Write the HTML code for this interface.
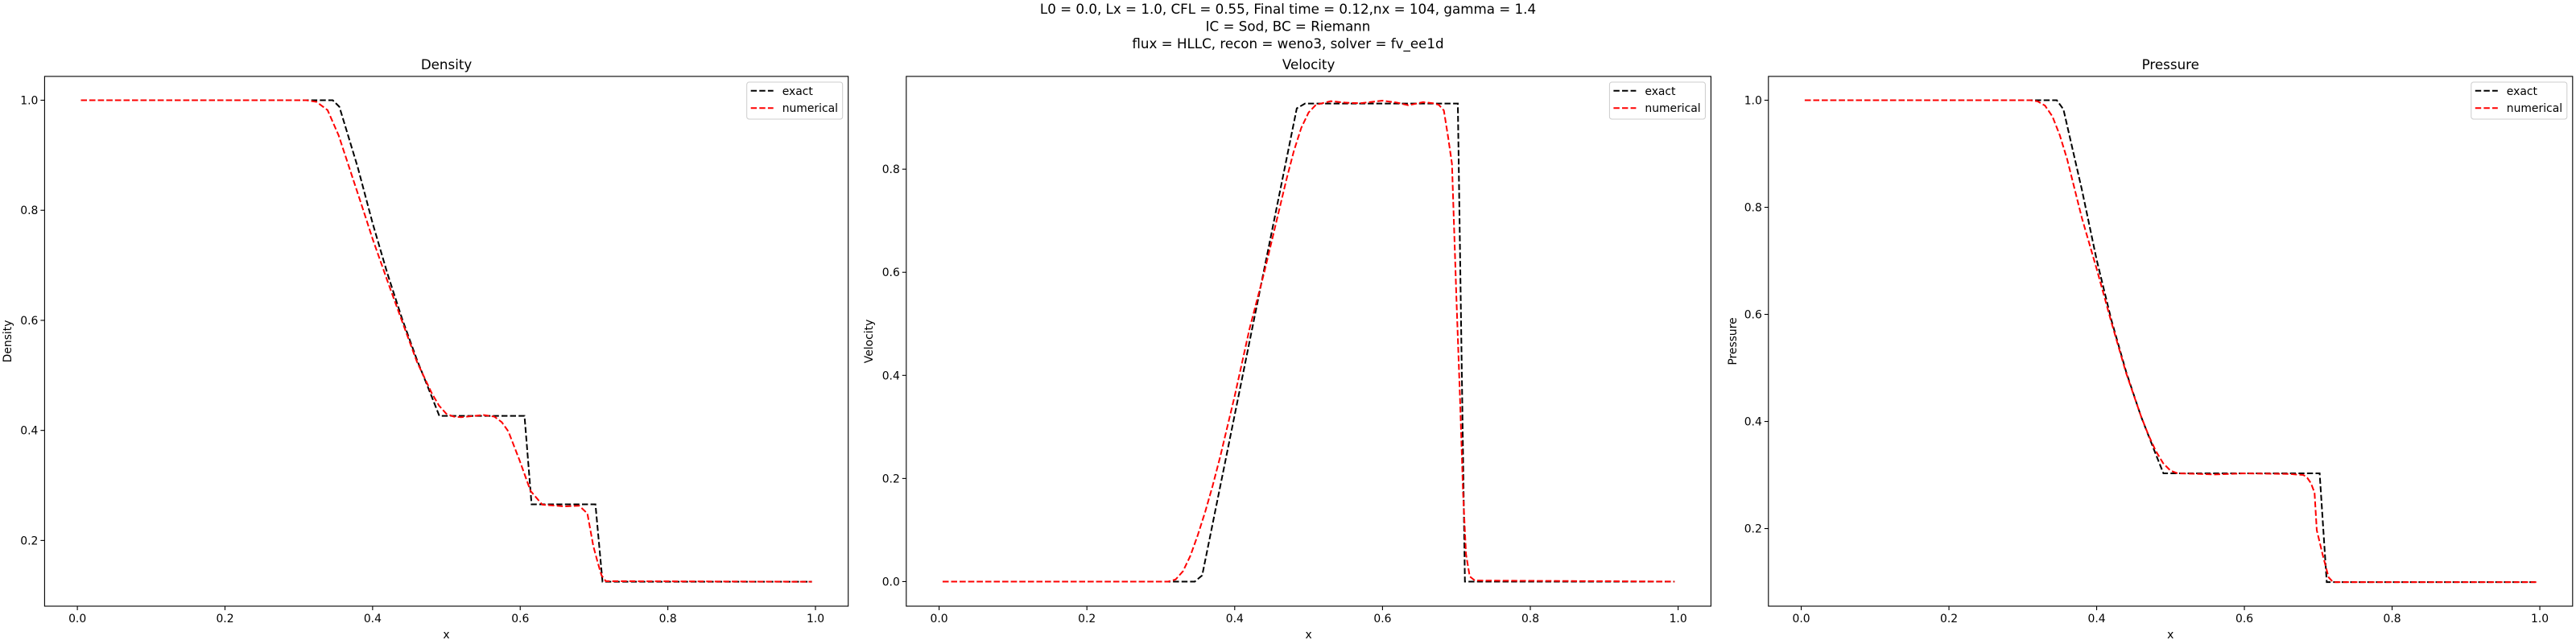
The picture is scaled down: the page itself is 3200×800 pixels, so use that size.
<!DOCTYPE html>
<html><head><meta charset="utf-8">
<style>
html,body{margin:0;padding:0;background:#fff;}
svg{display:block;}
text{font-family:"DejaVu Sans","Liberation Sans",sans-serif;fill:#000;}
</style></head>
<body>
<svg id="fig" width="3200" height="800" viewBox="0 0 3200 800" xmlns="http://www.w3.org/2000/svg">
  <rect width="3200" height="800" fill="#fff"/>
  <g>
    <text x="1600" y="17" font-size="16.7" text-anchor="middle">L0 = 0.0, Lx = 1.0, CFL = 0.55, Final time = 0.12,nx = 104, gamma = 1.4</text>
    <text x="1600" y="38.5" font-size="16.7" text-anchor="middle">IC = Sod, BC = Riemann</text>
    <text x="1600" y="60" font-size="16.7" text-anchor="middle">flux = HLLC, recon = weno3, solver = fv_ee1d</text>
  </g>
</svg>
<script>
// ---- data ----
const densExactX = [0.0048,0.346,0.355,0.38,0.40,0.42,0.44,0.46,0.48,0.4904,0.6058,0.6154,0.7019,0.7115,0.9952];
const densExactY = [1,1,0.988,0.8775,0.7766,0.6853,0.6028,0.5286,0.4617,0.4263,0.4263,0.2656,0.2656,0.125,0.125];
const densNumX = [0.0048,0.31,0.324,0.339,0.354,0.369,0.385,0.40,0.42,0.44,0.46,0.48,0.49,0.50,0.51,0.52,0.55,0.565,0.575,0.584,0.599,0.614,0.63,0.66,0.68,0.691,0.699,0.705,0.710,0.716,0.9952];
const densNumY = [1,1,0.997,0.982,0.936,0.875,0.81,0.748,0.672,0.598,0.525,0.468,0.445,0.43,0.425,0.424,0.428,0.425,0.415,0.398,0.346,0.29,0.265,0.262,0.263,0.249,0.19,0.16,0.137,0.126,0.125];

const velExactX = [0.0048,0.346,0.356,0.484,0.4952,0.7019,0.7115,0.9952];
const velExactY = [0,0,0.012,0.918,0.9274,0.9274,0,0];
const velNumX = [0.0048,0.31,0.32,0.33,0.34,0.35,0.36,0.37,0.38,0.39,0.40,0.42,0.44,0.46,0.47,0.48,0.49,0.50,0.51,0.53,0.55,0.57,0.60,0.62,0.635,0.655,0.668,0.676,0.683,0.689,0.694,0.70,0.705,0.709,0.713,0.718,0.725,0.9952];
const velNumY = [0,0,0.004,0.02,0.05,0.09,0.135,0.185,0.24,0.30,0.36,0.49,0.60,0.72,0.78,0.835,0.88,0.91,0.925,0.932,0.929,0.928,0.933,0.929,0.924,0.93,0.928,0.925,0.914,0.86,0.81,0.55,0.35,0.172,0.053,0.01,0.002,0];

const presExactX = [0.0048,0.346,0.355,0.38,0.40,0.42,0.44,0.46,0.48,0.4904,0.7019,0.7115,0.9952];
const presExactY = [1,1,0.983,0.8328,0.7019,0.5891,0.4923,0.4096,0.3390,0.3031,0.3031,0.1,0.1];
const presNumX = [0.0048,0.31,0.32,0.33,0.34,0.35,0.36,0.37,0.38,0.40,0.42,0.44,0.46,0.47,0.48,0.49,0.50,0.51,0.54,0.56,0.60,0.66,0.68,0.685,0.69,0.695,0.698,0.706,0.714,0.72,0.9952];
const presNumY = [1,1,0.998,0.99,0.97,0.935,0.89,0.835,0.78,0.685,0.585,0.49,0.41,0.375,0.345,0.322,0.308,0.303,0.302,0.301,0.303,0.302,0.30,0.295,0.285,0.267,0.197,0.151,0.109,0.1,0.1];

const xTicks = [0.0,0.2,0.4,0.6,0.8,1.0];
const xTickLabels = ["0.0","0.2","0.4","0.6","0.8","1.0"];
const densTicks = [0.2,0.4,0.6,0.8,1.0];
const velTicks = [0.0,0.2,0.4,0.6,0.8];
const presTicks = [0.2,0.4,0.6,0.8,1.0];

const NS='http://www.w3.org/2000/svg';
const svg=document.getElementById('fig');
function mk(tag,attrs,parent){const e=document.createElementNS(NS,tag);for(const k in attrs)e.setAttribute(k,attrs[k]);(parent||svg).appendChild(e);return e;}

function panel(key,title,ylabel,left,right,ymin,ymax,yTicks,exX,exY,nuX,nuY,ylabX){
  const top=94.9,bottom=753;
  const xmin=-0.0444,xmax=1.0444;
  const sx=v=>left+(v-xmin)/(xmax-xmin)*(right-left);
  const sy=v=>bottom-(v-ymin)/(ymax-ymin)*(bottom-top);
  const g=mk('g',{});
  
  
  const t=mk('text',{x:(left+right)/2,y:86,'font-size':16.7,'text-anchor':'middle'},g);
  t.textContent=title;
  
  
  xTicks.forEach((v,i)=>{
    const x=sx(v);
    mk('line',{x1:x,x2:x,y1:bottom,y2:bottom+5,stroke:'#000','stroke-width':1.1},g);
    const tl=mk('text',{x:x,y:773,'font-size':13.9,'text-anchor':'middle'},g);
    tl.textContent=xTickLabels[i];
    
    
  });
  yTicks.forEach(v=>{
    const y=sy(v);
    mk('line',{x1:left-5,x2:left,y1:y,y2:y,stroke:'#000','stroke-width':1.1},g);
    const tl=mk('text',{x:left-8,y:y+5,'font-size':13.9,'text-anchor':'end'},g);
    tl.textContent=v.toFixed(1);
    
    
  });
  const xl=mk('text',{x:(left+right)/2,y:793,'font-size':13.9,'text-anchor':'middle'},g);
  xl.textContent='x';
  
  
  const cy=(top+bottom)/2;
  const yl=mk('text',{x:ylabX,y:cy,'font-size':13.9,'text-anchor':'middle',transform:`rotate(-90 ${ylabX} ${cy})`},g);
  yl.textContent=ylabel;
  
  
  function series(xs,ys,color,name){
    const d=xs.map((x,i)=>(i?'L':'M')+sx(x).toFixed(2)+' '+sy(ys[i]).toFixed(2)).join(' ');
    const p=mk('path',{d:d,fill:'none',stroke:color,'stroke-width':2,'stroke-dasharray':'7.4 3.2'},g);
    
    
  }
  series(exX,exY,'#000',key+'-exact-line');
  series(nuX,nuY,'#ff0000',key+'-numerical-line');
  const fr=mk('rect',{x:left,y:top,width:right-left,height:bottom-top,fill:'none',stroke:'#000','stroke-width':1.1},g);
  
  
  const lg=mk('g',{},g);
  
  
  const lx=right-126;
  mk('rect',{x:lx,y:102,width:119,height:46,rx:3,fill:'#fff','fill-opacity':0.8,stroke:'#ccc','stroke-width':1},lg);
  [['exact','#000',112.8],['numerical','#ff0000',134.2]].forEach(([lab,c,y])=>{
    const e=mk('g',{},lg);
    
    
    mk('line',{x1:lx+5,x2:lx+33,y1:y,y2:y,stroke:c,'stroke-width':2,'stroke-dasharray':'7.4 3.2'},e);
    const tx=mk('text',{x:lx+44,y:y+5,'font-size':13.9},e);
    tx.textContent=lab;
  });
}
panel('density','Density','Density',55.4,1053.7,0.0806,1.0433,densTicks,densExactX,densExactY,densNumX,densNumY,14);
panel('velocity','Velocity','Velocity',1125.8,2125.4,-0.0477,0.98,velTicks,velExactX,velExactY,velNumX,velNumY,1084);
panel('pressure','Pressure','Pressure',2196.8,3195.8,0.055,1.0445,presTicks,presExactX,presExactY,presNumX,presNumY,2157);
</script>
</body></html>
